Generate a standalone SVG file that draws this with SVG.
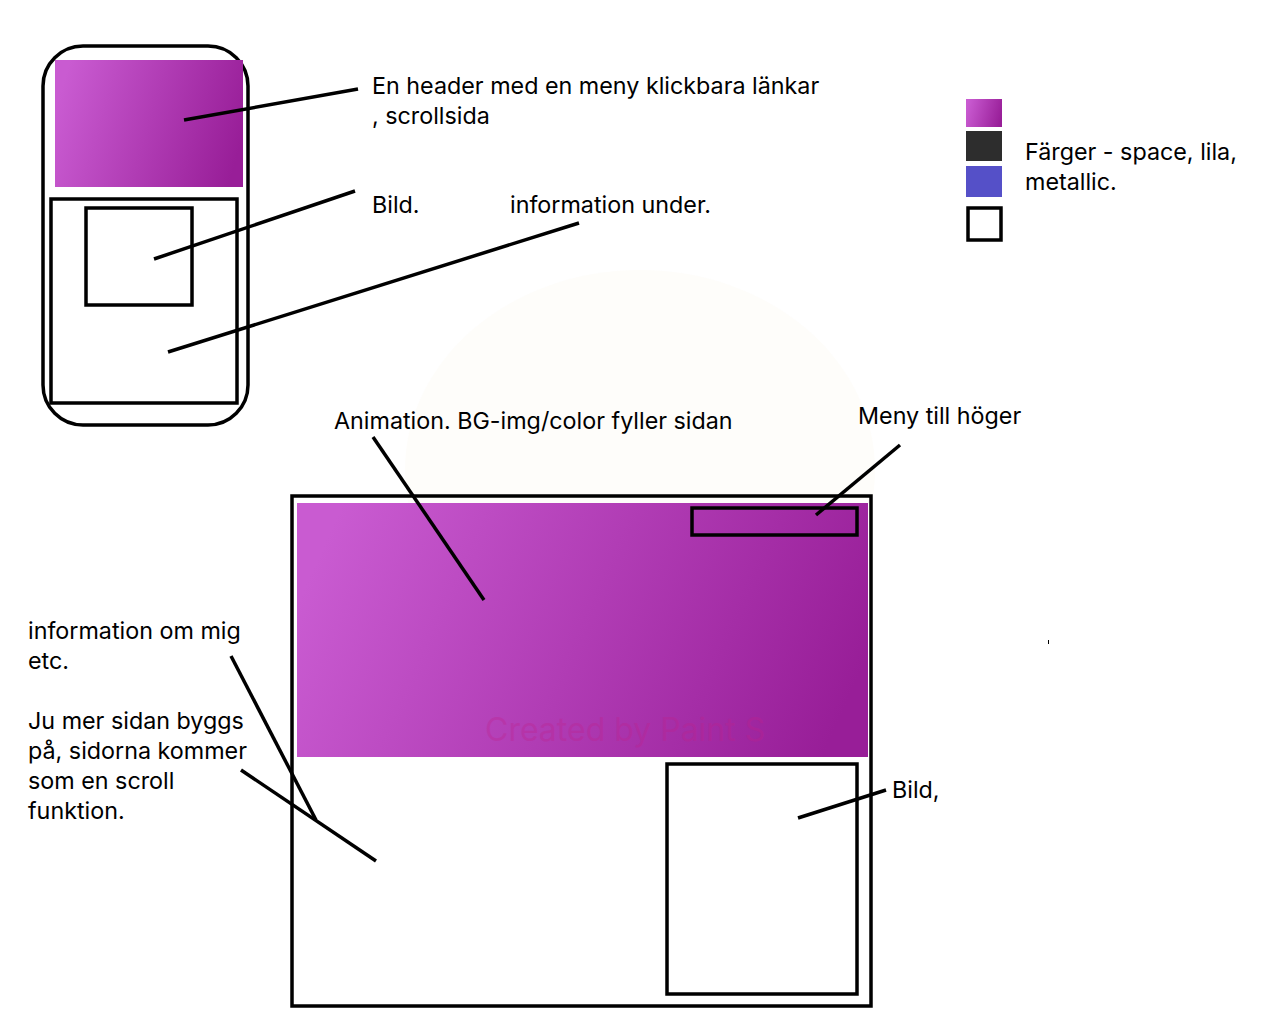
<svg xmlns="http://www.w3.org/2000/svg" width="1280" height="1024" viewBox="0 0 1280 1024">
<defs>
<linearGradient id="pur" x1="0" y1="0.4" x2="1" y2="0.6">
<stop offset="0" stop-color="#c95bd1"/>
<stop offset="1" stop-color="#981e98"/>
</linearGradient>
<style>
.t{font-family:Inter,"Liberation Sans",Arial,sans-serif;font-size:23.3px;fill:#000}
.k{fill:none;stroke:#000;stroke-width:3.5}
.c{stroke:#000;stroke-width:3.5;fill:none}
</style>
</defs>
<rect width="1280" height="1024" fill="#fff"/>
<g id="watermark" opacity="0.5">
<ellipse cx="640" cy="470" rx="235" ry="200" fill="#fdfbf6"/>
</g>
<g id="phone">
<rect x="43" y="46" width="205" height="379" rx="40" class="k"/>
<rect x="55" y="60" width="188" height="127" fill="url(#pur)"/>
<rect x="51" y="199" width="186" height="204" class="k"/>
<rect x="86" y="208" width="106" height="97" class="k"/>
</g>
<g id="palette">
<rect x="966" y="99" width="36" height="28" fill="url(#pur)"/>
<rect x="966" y="131" width="36" height="30" fill="#2d2d2d"/>
<rect x="966" y="166" width="36" height="31" fill="#5550c8"/>
<rect x="968" y="208" width="33" height="32" class="k"/>
</g>
<g id="desktop">
<rect x="292" y="496" width="579" height="510" class="k"/>
<rect x="297" y="503" width="571" height="254" fill="url(#pur)"/>
<text x="485" y="741" style="font-family:Inter,'Liberation Sans',Arial,sans-serif;font-size:32px;fill:#c0208a;opacity:0.3">Created by Paint S</text>
<rect x="692" y="508" width="165" height="27" class="k"/>
<rect x="667" y="764" width="190" height="230" class="k"/>
</g>
<g id="labels">
<text class="t" x="372" y="94">En header med en meny klickbara länkar</text>
<text class="t" x="372" y="124">, scrollsida</text>
<text class="t" x="372" y="213">Bild.</text>
<text class="t" x="510" y="213">information under.</text>
<text class="t" x="1025" y="160">Färger - space, lila,</text>
<text class="t" x="1025" y="190">metallic.</text>
<text class="t" x="334" y="429">Animation. BG-img/color fyller sidan</text>
<text class="t" x="858" y="424">Meny till höger</text>
<text class="t" x="28" y="639">information om mig</text>
<text class="t" x="28" y="669">etc.</text>
<text class="t" x="28" y="729">Ju mer sidan byggs</text>
<text class="t" x="28" y="759">på, sidorna kommer</text>
<text class="t" x="28" y="789">som en scroll</text>
<text class="t" x="28" y="819">funktion.</text>
<text class="t" x="892" y="798">Bild,</text>
</g>
<g id="connectors">
<line class="c" x1="184" y1="120" x2="358" y2="89"/>
<line class="c" x1="154" y1="259" x2="355" y2="191"/>
<line class="c" x1="168" y1="352" x2="579" y2="223"/>
<line class="c" x1="373" y1="437" x2="484" y2="600"/>
<line class="c" x1="900" y1="445" x2="816" y2="515"/>
<line class="c" x1="231" y1="656" x2="316" y2="820"/>
<line class="c" x1="241" y1="770" x2="376" y2="861"/>
<line class="c" x1="886" y1="790" x2="798" y2="818"/>
<line x1="1048.5" y1="640" x2="1048.5" y2="644" stroke="#000" stroke-width="1"/>
</g>
</svg>
